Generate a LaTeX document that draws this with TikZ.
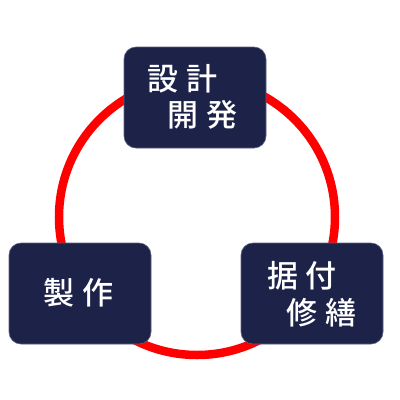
\documentclass[tikz,border=0pt]{standalone}
\usepackage{fontspec}
\newfontfamily\jp{Noto Sans CJK JP}[BoldFont={* Medium}]
\definecolor{navy}{HTML}{1D2249}
\definecolor{navyedge}{HTML}{5A5F80}
\definecolor{ringred}{HTML}{FF0000}
\tikzset{
  box/.style={draw=navyedge, line width=0.6pt, fill=navy, rounded corners=12pt,
    minimum width=142pt, minimum height=101pt, inner sep=0pt},
  label/.style={text=white, font=\jp\bfseries\fontsize{31}{31}\selectfont, inner sep=0pt, anchor=center},
  ring/.style={draw=ringred, line width=8.5pt}
}
\begin{document}
\begin{tikzpicture}[x=1pt,y=1pt]
\useasboundingbox (0,0) rectangle (400,-400);
\draw[ring] (197,-217) circle (138);
\node[box] (top) at (195,-97.5) {};
\node[box] (left) at (80,-293.5) {};
\node[box] (right) at (312,-293.5) {};
\node[label] (t1) at (182.5,-79) {設\hspace{8pt}計};
\node[label] (t2) at (202.5,-115) {開\hspace{8pt}発};
\node[label] (l1) at (78.5,-293) {製\hspace{8pt}作};
\node[label] (r1) at (302,-276) {据\hspace{8pt}付};
\node[label] (r2) at (321.5,-312.5) {修\hspace{8pt}繕};
\end{tikzpicture}
\end{document}
